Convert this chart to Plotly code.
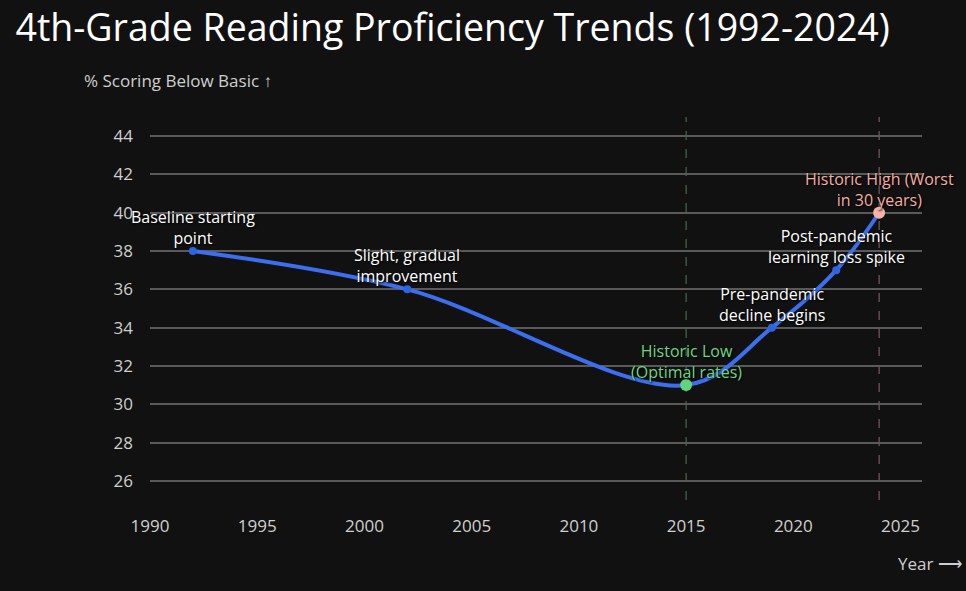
import plotly.graph_objects as go

years = [1992, 2002, 2015, 2019, 2022, 2024]
below_basic = [38, 36, 31, 34, 37, 40]
notes = ["Baseline starting<br>point", "Slight, gradual<br>improvement",
         "Historic Low<br>(Optimal rates)", "Pre-pandemic<br>decline begins",
         "Post-pandemic<br>learning loss spike", "Historic High (Worst<br>in 30 years)"]
marker_colors = ["#2f63e0", "#2f63e0", "#62d47e", "#2f63e0", "#2f63e0", "#f6b3aa"]
note_colors = ["#ffffff", "#ffffff", "#6fd684", "#ffffff", "#ffffff", "#f4ada3"]
y_ticks = [26, 28, 30, 32, 34, 36, 38, 40, 42, 44]
x_ticks = [1990, 1995, 2000, 2005, 2010, 2015, 2020, 2025]

BG = "#111111"
FONT = "Open Sans"

fig = go.Figure()

# vertical markers for low / high years
fig.add_vline(x=2015, line=dict(color="#4f7d5a", width=1, dash="dash"), layer="below")
fig.add_vline(x=2024, line=dict(color="#8a6b6b", width=1, dash="dash"), layer="below")

fig.add_trace(go.Scatter(
    x=years, y=below_basic,
    mode="lines+markers",
    line=dict(color="#3b6ff0", width=4, shape="spline", smoothing=1),
    marker=dict(size=[8, 8, 12, 8, 8, 12], color=marker_colors, opacity=1,
                line=dict(width=0)),
    hoverinfo="x+y",
    showlegend=False,
))

for x, y, t, c in zip(years, below_basic, notes, note_colors):
    fig.add_annotation(
        x=x, y=y, text=t, showarrow=False,
        xanchor="center", yanchor="bottom", yshift=0,
        font=dict(family=FONT, size=16, color=c, shadow="1px 1px 2px #000"),
    )

fig.add_annotation(xref="paper", yref="paper", x=-0.088, y=1.06, xanchor="left", yanchor="bottom",
                   text="% Scoring Below Basic ↑", showarrow=False,
                   font=dict(family=FONT, size=17, color="#cfcfcf"))
fig.add_annotation(xref="paper", yref="paper", x=1.055, y=-0.165, xanchor="right", yanchor="middle",
                   text="Year ⟶", showarrow=False,
                   font=dict(family=FONT, size=17, color="#cfcfcf"))

fig.update_layout(
    width=966, height=591,
    paper_bgcolor=BG, plot_bgcolor=BG,
    margin=dict(l=150, r=44, t=117, b=91),
    title=dict(text="4th-Grade Reading Proficiency Trends (1992-2024)",
               x=0.016, xanchor="left", y=0.953, yanchor="middle",
               font=dict(family=FONT, size=37.5, color="#ffffff")),
    font=dict(family=FONT, color="#cfcfcf"),
    xaxis=dict(range=[1990, 2026], tickvals=x_ticks, showgrid=False, zeroline=False,
               showline=False, ticks="", ticklabelstandoff=14,
               tickfont=dict(size=17, color="#cfcfcf")),
    yaxis=dict(range=[25, 45], tickvals=y_ticks, gridcolor="#5a5a5a", gridwidth=1.5,
               zeroline=False, showline=False, ticks="", ticklabelstandoff=16,
               tickfont=dict(size=17, color="#cfcfcf")),
)

fig.write_html("out.html", config={"displayModeBar": False},
               post_script="document.body.style.margin='0';document.body.style.background='#111111';")
